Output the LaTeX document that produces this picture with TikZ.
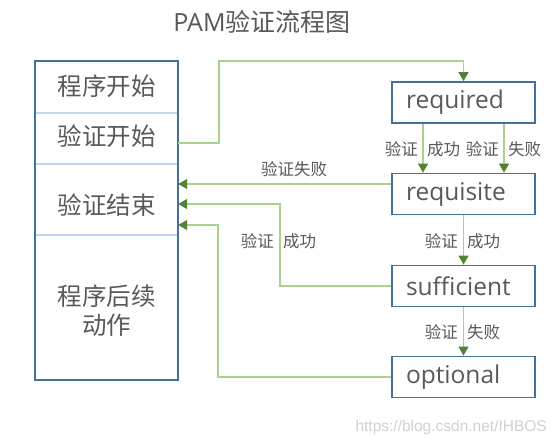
\documentclass[tikz,border=0pt]{standalone}
\usepackage{fontspec}
\setmainfont{Open Sans}
\newfontfamily\cjk{Noto Sans CJK SC}
\newfontfamily\wmfont{Liberation Sans}
\usetikzlibrary{arrows.meta,calc}
\definecolor{boxblue}{HTML}{41719C}
\definecolor{divblue}{HTML}{BDD7EE}
\definecolor{lgreen}{HTML}{A9D18E}
\definecolor{dgreen}{HTML}{548235}
\definecolor{txt}{HTML}{595959}
\begin{document}
\begin{tikzpicture}[x=1pt,y=-1pt,
  mod/.style={draw=boxblue,line width=1.8pt,fill=white,minimum height=41pt,
    inner xsep=14pt,inner ysep=0pt,text width=115pt,align=left,
    font=\fontsize{24.5}{28}\selectfont,text=txt},
  cell/.style={font=\cjk\fontsize{24.5}{29}\selectfont,text=txt,align=center},
  conn/.style={draw=lgreen,line width=1.3pt},
  arr/.style={conn,-{Triangle[length=9pt,width=10pt,color=dgreen]}},
  lbl/.style={font=\cjk\fontsize{16.5}{18}\selectfont,text=txt,inner sep=0pt},
  divider/.style={draw=divblue,line width=1.3pt}
]
\useasboundingbox[fill=white] (0,0) rectangle (557,446);

% title
\node[font=\fontsize{25}{28}\selectfont,text=txt] (title) at (262,22) {PAM{\cjk 验证流程图}};

% left stack
\node[minimum width=143pt,minimum height=319pt,inner sep=0pt] (lbox) at (106.5,220.5) {};
\draw[divider] (35,113) -- (178,113);
\draw[divider] (35,164) -- (178,164);
\draw[divider] (35,235) -- (178,235);
\draw[draw=boxblue,line width=1.6pt] (lbox.north west) rectangle (lbox.south east);
\node[cell] (c1) at (106.5,86) {程序开始};
\node[cell] (c2) at (106.5,136) {验证开始};
\node[cell] (c3) at (106.5,205) {验证结束};
\node[cell] (c4) at (106.5,311) {程序后续\\动作};

% modules
\node[mod] (req) at (463.5,102.5) {required};
\node[mod] (rqs) at (463.5,194) {requisite};
\node[mod] (suf) at (463.5,286) {sufficient};
\node[mod] (opt) at (463.5,377) {optional};

% connectors
\coordinate (start) at (lbox.east |- 0,143);
\draw[arr] (start) -| (219,61) -| (req.north);

\draw[arr] (req.south -| 423,0) -- (rqs.north -| 423,0);
\draw[arr] (req.south -| 504,0) -- (rqs.north -| 504,0);
\node[lbl,anchor=east] (l1) at (418,149) {验证};
\node[lbl,anchor=west] (l2) at (427,149) {成功};
\node[lbl,anchor=east] (l3) at (499,149) {验证};
\node[lbl,anchor=west] (l4) at (508,149) {失败};

\draw[arr] (rqs.west |- 0,184) -- (lbox.east |- 0,184);
\node[lbl] (l5) at (294,169) {验证失败};

\draw[arr] (rqs.south) -- (suf.north);
\node[lbl,anchor=east] (l6) at (458,241) {验证};
\node[lbl,anchor=west] (l7) at (467,241) {成功};

\draw[arr] (suf.west) -| (280,204) -- (lbox.east |- 0,204);
\node[lbl,anchor=east] (l8) at (274,241) {验证};
\node[lbl,anchor=west] (l9) at (283,241) {成功};

\draw[arr] (suf.south) -- (opt.north);
\node[lbl,anchor=east] (l10) at (458,332) {验证};
\node[lbl,anchor=west] (l11) at (467,332) {失败};

\draw[arr] (opt.west) -| (218,225) -- (lbox.east |- 0,225);

% watermark
\node[font=\wmfont\fontsize{15.5}{17}\selectfont,text=black!18,anchor=east,inner sep=0pt] (wm) at (547,427) {https://blog.csdn.net/IHBOS};
\end{tikzpicture}
\end{document}
